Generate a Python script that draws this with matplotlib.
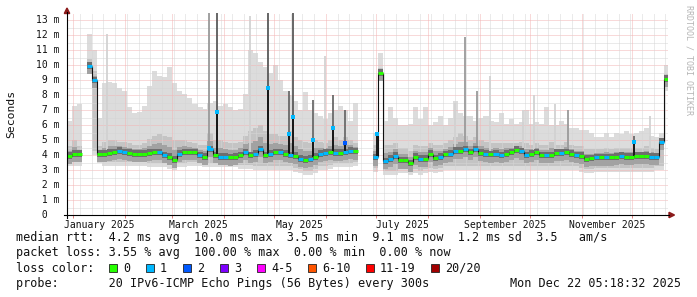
import numpy as np
import matplotlib.pyplot as plt
from matplotlib.patches import Polygon, Rectangle
from matplotlib.lines import Line2D
import matplotlib.transforms as mtrans

W, H = 697, 297
nan = np.nan

# one value per 3-day column, first column starts 28 Dec 2024 (day -3.8)
median = [3.95, 4.1, 4.1, nan, 9.95, 9.0, 4.1, 4.1, 4.15, 4.2,
          4.3, 4.2, 4.15, 4.1, 4.1, 4.1, 4.15, 4.2, 4.2, 4.0,
          3.9, 3.7, 4.1, 4.2, 4.2, 4.2, 4.0, 3.9, 4.4, 4.0,
          3.9, 3.9, 3.85, 3.9, 4.0, 4.2, 4.0, 4.1, 4.4, 4.0,
          4.1, 4.2, 4.2, 4.1, 4.0, 3.95, 3.75, 3.7, 3.75, 3.9,
          4.1, 4.15, 4.2, 4.15, 4.15, 4.2, 4.3, 4.25, nan, nan,
          nan, 3.85, 9.5, 3.6, 3.75, 3.95, 3.65, 3.65, 3.45, 3.9,
          3.75, 3.75, 4.1, 3.8, 3.9, 4.05, 4.1, 4.3, 4.3, 4.4,
          4.2, 4.4, 4.15, 4.1, 4.05, 4.1, 4.0, 4.1, 4.2, 4.35,
          4.25, 4.0, 4.1, 4.2, 4.0, 4.0, 4.0, 4.15, 4.15, 4.2,
          4.1, 4.0, 3.95, 3.75, 3.8, 3.85, 3.85, 3.85, 3.85, 3.9,
          3.95, 3.9, 3.9, 3.95, 3.95, 3.95, 3.9, 3.9, 4.9, 9.1]
loss = [0, 0, 0, 0, 1, 1, 0, 0, 0, 0,
        1, 1, 0, 0, 0, 0, 0, 0, 1, 1,
        0, 0, 1, 0, 0, 0, 1, 0, 1, 0,
        1, 1, 0, 0, 0, 1, 0, 1, 1, 0,
        1, 0, 1, 0, 1, 0, 1, 0, 1, 0,
        1, 1, 0, 1, 0, 1, 1, 0, 0, 0,
        0, 1, 0, 1, 1, 1, 0, 0, 0, 0,
        1, 0, 0, 0, 1, 0, 1, 1, 0, 1,
        0, 1, 0, 1, 0, 1, 1, 0, 0, 0,
        1, 1, 0, 0, 0, 1, 0, 0, 1, 0,
        0, 1, 0, 0, 0, 1, 0, 1, 0, 0,
        1, 0, 0, 0, 0, 0, 1, 1, 1, 0]
smoke_top = [6.3, 7.3, 7.4, nan, 12.1, 11.0, 6.5, 8.8, 8.9, 8.8,
             8.5, 8.3, 7.2, 6.8, 6.9, 7.3, 8.6, 9.6, 9.3, 9.2,
             9.9, 8.8, 8.3, 8.1, 7.8, 7.4, 7.2, 7.1, 7.5, 7.6,
             7.3, 7.4, 7.2, 7.0, 7.1, 8.1, 11.0, 10.8, 10.2, 9.9,
             9.5, 10.0, 9.0, 8.3, 8.0, 7.6, 7.0, 8.2, 7.0, 6.8,
             6.6, 6.4, 6.8, 7.0, 7.3, 7.0, 6.3, 7.5, nan, nan,
             nan, 5.5, 10.8, 6.3, 7.2, 6.5, 6.0, 6.0, 6.1, 7.2,
             6.4, 7.2, 6.0, 6.2, 6.6, 6.0, 6.5, 7.6, 6.8, 6.6,
             6.6, 6.3, 6.5, 6.6, 6.3, 6.2, 6.8, 6.1, 6.4, 6.1,
             6.2, 7.0, 6.1, 6.2, 6.1, 7.2, 6.0, 6.0, 6.3, 6.1,
             5.8, 5.8, 5.7, 5.7, 5.5, 5.2, 5.2, 5.5, 5.2, 5.5,
             5.4, 5.6, 5.4, 5.5, 5.6, 5.8, 5.3, 5.2, 5.5, 10.0]
smoke_mid = [4.6, 5.0, 4.6, nan, 10.4, 9.6, 4.6, 4.9, 5.0, 5.0,
             4.9, 4.9, 4.8, 4.7, 4.7, 4.8, 5.1, 5.3, 5.4, 5.3,
             5.2, 5.0, 5.0, 5.0, 4.9, 4.8, 4.7, 4.7, 5.5, 5.0,
             5.0, 4.9, 4.8, 4.8, 4.9, 5.3, 5.6, 5.8, 6.0, 5.6,
             5.4, 5.4, 5.3, 5.3, 5.6, 5.2, 5.0, 4.9, 4.8, 5.0,
             4.9, 4.8, 5.0, 5.2, 5.0, 5.2, 5.0, 4.8, nan, nan,
             nan, 4.7, 9.8, 4.7, 4.7, 4.8, 4.5, 4.5, 4.3, 4.7,
             4.6, 4.6, 4.8, 4.7, 4.7, 4.8, 5.0, 5.2, 5.5, 5.3,
             5.0, 5.2, 5.0, 4.9, 4.8, 4.8, 4.8, 4.8, 4.8, 4.8,
             4.9, 4.8, 4.7, 4.8, 4.7, 4.7, 4.9, 4.7, 4.7, 4.9,
             4.7, 4.6, 4.6, 4.4, 4.4, 4.4, 4.4, 4.5, 4.4, 4.5,
             4.5, 4.5, 4.5, 4.5, 4.5, 4.6, 4.5, 4.4, 5.0, 9.4]
smoke_low = [3.3, 3.3, 3.3, nan, 9.6, 4.0, 3.5, 3.3, 3.3, 3.3,
             3.3, 3.3, 3.3, 3.3, 3.3, 3.3, 3.2, 3.2, 3.2, 3.2,
             3.1, 3.0, 3.2, 3.2, 3.3, 3.3, 3.3, 3.2, 3.2, 3.2,
             3.2, 3.2, 3.2, 3.2, 3.1, 3.1, 3.1, 3.0, 3.0, 3.0,
             3.0, 3.0, 3.0, 3.0, 3.0, 2.9, 2.8, 2.7, 2.7, 2.8,
             3.0, 3.0, 3.1, 3.2, 3.2, 3.2, 3.2, 3.3, nan, nan,
             nan, 2.9, 9.1, 2.7, 2.7, 2.7, 2.8, 2.8, 2.7, 2.8,
             2.7, 2.8, 2.9, 2.8, 2.9, 3.0, 3.0, 3.0, 3.0, 3.0,
             3.0, 3.0, 3.0, 3.0, 3.0, 3.0, 3.0, 3.0, 3.0, 3.0,
             3.0, 3.0, 3.0, 3.0, 3.0, 3.0, 3.0, 3.0, 3.0, 3.0,
             3.0, 3.0, 2.9, 2.8, 2.8, 2.9, 2.9, 2.9, 2.9, 2.9,
             2.9, 2.9, 2.9, 2.9, 2.9, 2.9, 2.9, 3.0, 3.0, 8.3]

# narrow spikes (day of year from 1 Jan)
spike_day = [20.0, 81.3, 85.7, 105.7, 116.6, 128.7, 131.2, 143.3, 150.5, 155.3,
             162.4, 181.3, 228.2, 234.2, 241.2, 249.2, 268.9, 275.5, 288.0, 295.6,
             335.0, 344.8]
spike_top = [12.1, 13.45, 13.45, 13.3, 13.45, 8.3, 13.45, 7.7, 10.6, 8.0,
             7.0, 5.5, 7.5, 11.9, 8.3, 9.3, 7.0, 8.0, 7.4, 7.0,
             5.3, 6.6]
spike_shade = ['light', 'gray', 'black', 'light', 'black', 'dark', 'black', 'dark', 'light', 'dark',
               'dark', 'dark', 'light', 'gray', 'gray', 'light', 'light', 'light', 'light', 'gray',
               'dark', 'light']
spike_med = [nan, 4.5, 6.9, nan, 8.45, 5.4, 6.55, 5.0, nan, 5.8,
             4.8, 5.4, nan, nan, nan, nan, nan, nan, nan, nan,
             4.9, nan]
spike_loss = [0, 1, 1, 0, 1, 1, 1, 1, 0, 1,
              2, 1, 0, 0, 0, 0, 0, 0, 0, 0,
              1, 0]

loss_labels = ['0', '1', '2', '3', '4-5', '6-10', '11-19', '20/20']
loss_colors = ['#26ff00', '#00b8ff', '#0059ff', '#7e00ff', '#ff00ff', '#ff5500', '#ff0000', '#a10000']

month_start = [0, 31, 59, 90, 120, 151, 181, 212, 243, 273, 304, 334]
month_labels = ['January 2025', 'March 2025', 'May 2025', 'July 2025', 'September 2025', 'November 2025']
month_label_pos = [15.5, 74.5, 135.5, 196.5, 258.0, 319.0]

shades = {'light': '#d2d2d2', 'gray': '#9a9a9a', 'dark': '#6a6a6a', 'black': '#5a5a5a'}
MONO = 'DejaVu Sans Mono'


def fx(px):
    return px / W


def fy(py):
    return 1 - py / H


fig = plt.figure(figsize=(W / 100, H / 100), dpi=100)
ax = fig.add_axes([fx(67), fy(215), 601 / W, (215 - 13.3) / H])
t0, step = -3.8, 3.0
ax.set_xlim(t0, t0 + 601 / 1.6725)
ax.set_ylim(0, 13.45)
ax.axis('off')

med = np.array(median)
top = np.array(smoke_top)
mid = np.array(smoke_mid)
low = np.array(smoke_low)
days = t0 + step * np.arange(len(med))
ok = ~np.isnan(med)
bw = step * 1.01

# smoke
ax.bar(days[ok], (top - low)[ok], bottom=low[ok], width=bw, align='edge',
       color='#dcdcdc', lw=0, zorder=1)
ax.bar(days[ok], (mid - low - 0.25)[ok], bottom=(low + 0.25)[ok], width=bw, align='edge',
       color='#c4c4c4', lw=0, zorder=1.2)
ax.bar(days[ok], ((med + mid) / 2 - med + 0.55)[ok], bottom=(med - 0.55)[ok], width=bw,
       align='edge', color='#a2a2a2', lw=0, zorder=2.6)
ax.bar(days[ok], np.full(ok.sum(), 0.42), bottom=(med - 0.2)[ok], width=bw,
       align='edge', color='#6e6e6e', lw=0, zorder=2.7)

# spikes
for d, tp, sh, sm, sl in zip(spike_day, spike_top, spike_shade, spike_med, spike_loss):
    i = int((d - t0) // step)
    base = med[i] if ok[i] else med[i + 1]
    ax.vlines(d, base, tp, colors=shades[sh], lw=1.3, zorder=2.65)
    if not np.isnan(sm):
        ax.vlines(d, base, sm, colors='#111111', lw=1.3, zorder=4)
        ax.plot(d, sm, marker='s', ms=2.3, mew=0, color=loss_colors[sl], zorder=5)

# grid
gkw = dict(ls=(0, (1, 1)), lw=0.72, zorder=2.5)
for v in np.arange(0.5, 13.5, 0.5):
    ax.axhline(v, color='#f3b4b4' if v % 1 == 0 else '#d6d6d6', **gkw)
for d in np.arange(4, 356, 7):
    if d not in month_start:
        ax.axvline(d, color='#d6d6d6', **gkw)
for d in month_start:
    ax.axvline(d, color='#f3b4b4', **gkw)
ax.vlines(month_start, -0.18, 0, colors='#e08080', lw=0.72, clip_on=False)

# median line
for i in range(len(med) - 1):
    if ok[i] and ok[i + 1] and med[i] != med[i + 1]:
        ax.vlines(days[i + 1], min(med[i], med[i + 1]), max(med[i], med[i + 1]),
                  colors='#111111', lw=0.8, zorder=4)
ax.hlines(med[ok], days[ok], days[ok] + step, colors=[loss_colors[l] for l, k in zip(loss, ok) if k],
          lw=2.2, capstyle='butt', zorder=4.5)

# axes lines and arrows
fig.add_artist(Line2D([fx(67), fx(67)], [fy(12), fy(218)], color='black', lw=0.8))
fig.add_artist(Line2D([fx(64), fx(669)], [fy(215), fy(215)], color='black', lw=0.8))
fig.add_artist(Polygon([(fx(67), fy(8)), (fx(64.3), fy(13.5)), (fx(69.7), fy(13.5))],
                       closed=True, color='#8b1a1a', transform=fig.transFigure))
fig.add_artist(Polygon([(fx(674.5), fy(215)), (fx(669), fy(212.3)), (fx(669), fy(217.7))],
                       closed=True, color='#8b1a1a', transform=fig.transFigure))

# y labels
for v in range(14):
    lab = ' 0' if v == 0 else f'{v:2d} m'
    fig.text(fx(36), fy(215 - 15 * v + 3), lab, ha='left', va='baseline',
             family=MONO, size=7, color='#111111')

# x labels
tr = mtrans.blended_transform_factory(ax.transData, fig.transFigure)
for p, lab in zip(month_label_pos, month_labels):
    ax.text(p, fy(228), lab, transform=tr, ha='center', va='baseline',
            family=MONO, size=7, color='#111111')

fig.text(fx(11), fy(114), 'Seconds', rotation=90, ha='center', va='center',
         family=MONO, size=8.2, color='#111111')
fig.text(fx(688.5), fy(5), 'RRDTOOL / TOBI OETIKER', rotation=270, ha='center', va='top',
         family=MONO, size=6, color='#b5b5b5')

# legend
lkw = dict(ha='left', va='baseline', family=MONO, size=8.5, color='#111111')
fig.text(fx(16), fy(240.5),
         'median rtt:  4.2 ms avg  10.0 ms max  3.5 ms min  9.1 ms now  1.2 ms sd  3.5   am/s', **lkw)
fig.text(fx(16), fy(256), 'packet loss: 3.55 % avg  100.00 % max  0.00 % min  0.00 % now', **lkw)
fig.text(fx(16), fy(271.5), 'loss color:', **lkw)
sq_x = [109, 146, 183, 220, 257, 308, 366, 431]
for x0, c, lab in zip(sq_x, loss_colors, loss_labels):
    fig.add_artist(Rectangle((fx(x0), fy(272)), 8 / W, 8.3 / H, facecolor=c, edgecolor='#222222',
                             lw=0.6, transform=fig.transFigure))
    fig.text(fx(x0 + 14), fy(271.5), lab, **lkw)
fig.text(fx(16), fy(287), 'probe:       20 IPv6-ICMP Echo Pings (56 Bytes) every 300s', **lkw)
fig.text(fx(681), fy(287), 'Mon Dec 22 05:18:32 2025', **dict(lkw, ha='right'))

fig.savefig('out.png', dpi=100)
